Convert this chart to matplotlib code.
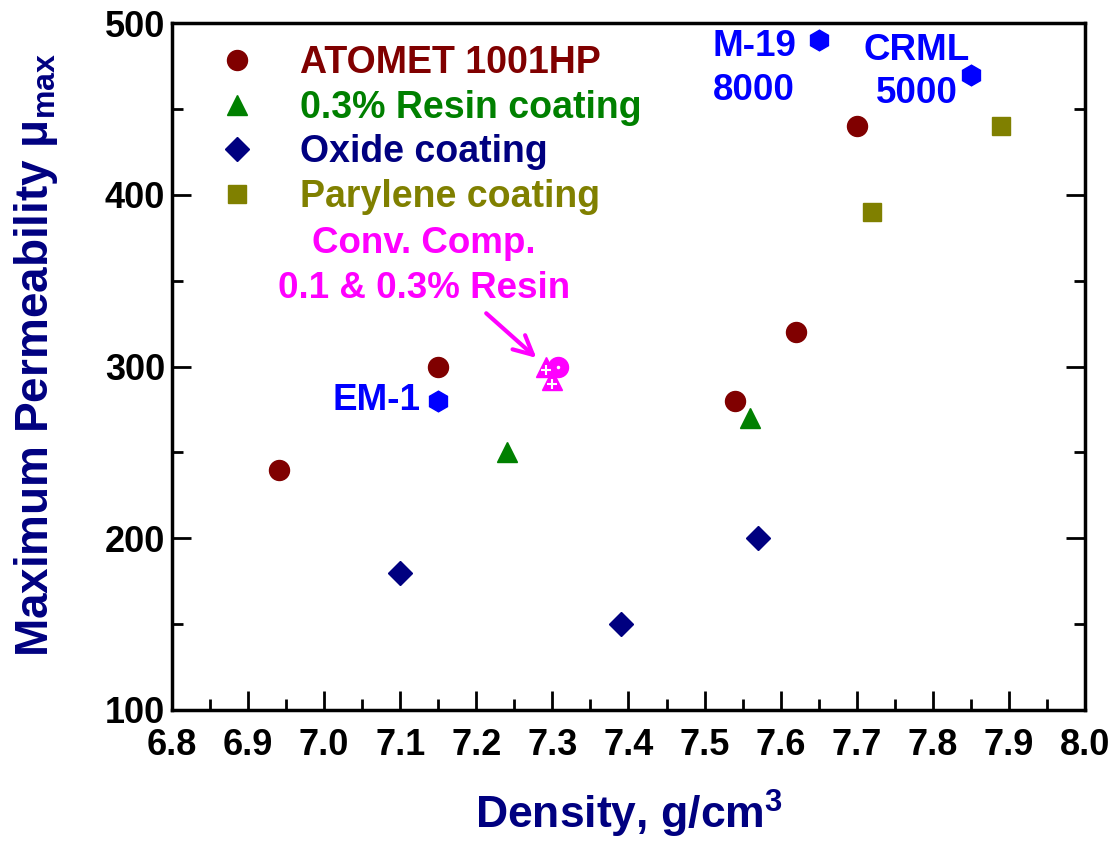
import matplotlib
matplotlib.use("Agg")
import matplotlib.pyplot as plt
from matplotlib.ticker import MultipleLocator, FormatStrFormatter
from matplotlib.lines import Line2D

plt.rcParams['font.family'] = ['Liberation Sans', 'DejaVu Sans']
plt.rcParams['font.weight'] = 'bold'
plt.rcParams['mathtext.fontset'] = 'custom'
plt.rcParams['mathtext.rm'] = 'Liberation Sans:bold'
plt.rcParams['mathtext.bf'] = 'Liberation Sans:bold'
plt.rcParams['mathtext.it'] = 'Liberation Sans:bold'

# Data
atomet_x = [6.94, 7.15, 7.54, 7.62, 7.70]
atomet_y = [240, 300, 280, 320, 440]
resin_x = [7.24, 7.56]
resin_y = [250, 270]
oxide_x = [7.10, 7.39, 7.57]
oxide_y = [180, 150, 200]
paryl_x = [7.72, 7.89]
paryl_y = [390, 440]
steel_names = ["EM-1", "M-19\n8000", "CRML\n5000"]
steel_x = [7.15, 7.65, 7.85]
steel_y = [280, 490, 470]
conv_tri_x = [7.292, 7.300]
conv_tri_y = [300, 292]
conv_circ_x = [7.308]
conv_circ_y = [300]

legend_labels = ["ATOMET 1001HP", "0.3% Resin coating", "Oxide coating", "Parylene coating"]
c_atomet = '#800000'
c_resin = '#008000'
c_oxide = '#000080'
c_paryl = '#808000'
c_steel = '#0000FF'
c_conv = '#FF00FF'

ms_circ, ms_tri, ms_dia, ms_sq, ms_hex = 14.4, 15, 12, 13, 14.9

fig = plt.figure(figsize=(11.19, 8.44), dpi=100)
ax = fig.add_axes([0.1537, 0.1588, 0.8159, 0.8139])

ax.plot(atomet_x, atomet_y, 'o', color=c_atomet, ms=ms_circ, ls='none')
ax.plot(resin_x, resin_y, '^', color=c_resin, ms=ms_tri, ls='none')
ax.plot(oxide_x, oxide_y, 'D', color=c_oxide, ms=ms_dia, ls='none')
ax.plot(paryl_x, paryl_y, 's', color=c_paryl, ms=ms_sq, ls='none')
ax.plot(steel_x, steel_y, 'h', color=c_steel, ms=ms_hex, ls='none')

ax.plot(conv_circ_x, conv_circ_y, 'o', color=c_conv, ms=ms_circ, ls='none')
ax.plot(conv_circ_x, conv_circ_y, '.', color='white', ms=3, ls='none')
ax.plot(conv_tri_x, conv_tri_y, '^', color=c_conv, ms=ms_tri, ls='none')
ax.plot(conv_tri_x, [v - 2 for v in conv_tri_y], '+', color='white', ms=7, mew=1.5, ls='none')

# Steel labels
ax.text(7.126, 280, steel_names[0], color=c_steel, fontsize=26.5, fontweight='bold',
        ha='right', va='center')
ax.text(7.511, 473.5, steel_names[1], color=c_steel, fontsize=26.5, fontweight='bold',
        ha='left', va='center', linespacing=1.32)
ax.text(7.779, 471.5, steel_names[2], color=c_steel, fontsize=26.5, fontweight='bold',
        ha='center', va='center', linespacing=1.32)

# Conventional composite annotation
ax.text(7.131, 358.5, "Conv. Comp.\n0.1 & 0.3% Resin", color=c_conv, fontsize=26.5,
        fontweight='bold', ha='center', va='center', linespacing=1.4)
ax.annotate("", xy=(7.279, 305), xytext=(7.213, 331),
            arrowprops=dict(arrowstyle='->', color=c_conv, lw=3,
                            mutation_scale=34, shrinkA=0, shrinkB=0))

ax.set_xlim(6.8, 8.0)
ax.set_ylim(100, 500)
ax.xaxis.set_major_locator(MultipleLocator(0.1))
ax.xaxis.set_minor_locator(MultipleLocator(0.05))
ax.yaxis.set_major_locator(MultipleLocator(100))
ax.yaxis.set_minor_locator(MultipleLocator(50))
ax.xaxis.set_major_formatter(FormatStrFormatter('%.1f'))
ax.tick_params(which='both', direction='in', top=False, right=True, width=2)
ax.tick_params(which='major', length=14, labelsize=26)
ax.tick_params(axis='x', which='major', pad=13)
ax.tick_params(axis='y', which='major', pad=5)
ax.tick_params(which='minor', length=8)
for lab in ax.get_xticklabels() + ax.get_yticklabels():
    lab.set_fontweight('bold')
for sp in ax.spines.values():
    sp.set_linewidth(2.5)

ax.set_xlabel(r'Density, g/cm$^{3}$', color=c_oxide, fontsize=32, fontweight='bold', labelpad=18)
ax.set_ylabel(r'Maximum Permeability μ$_{max}$', color=c_oxide, fontsize=33,
              fontweight='bold', labelpad=32)
ax.yaxis.label.set_y(0.517)

handles = [Line2D([], [], marker='o', color=c_atomet, ls='none', ms=ms_circ),
           Line2D([], [], marker='^', color=c_resin, ls='none', ms=ms_tri),
           Line2D([], [], marker='D', color=c_oxide, ls='none', ms=ms_dia),
           Line2D([], [], marker='s', color=c_paryl, ls='none', ms=ms_sq)]
leg = ax.legend(handles, legend_labels, loc='upper left', bbox_to_anchor=(0.030, 0.968),
                frameon=False, fontsize=27, handlelength=2.0, handletextpad=0.68,
                labelspacing=0.23, borderpad=0, borderaxespad=0,
                labelcolor=[c_atomet, c_resin, c_oxide, c_paryl])
for t in leg.get_texts():
    t.set_fontweight('bold')

fig.savefig('out.png', dpi=100)
